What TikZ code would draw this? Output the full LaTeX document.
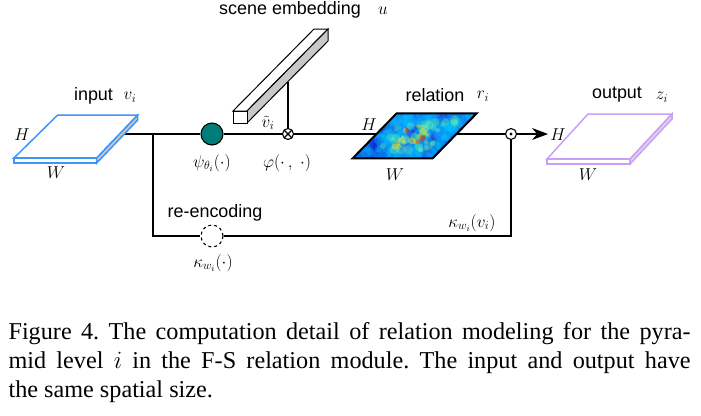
\documentclass[tikz,border=0pt]{standalone}
\usepackage{fontspec}
\setmainfont{Liberation Serif}
\setsansfont{Liberation Sans}
\usetikzlibrary{arrows.meta}
\definecolor{tealc}{RGB}{0,125,120}
\definecolor{inblue}{RGB}{60,150,250}
\definecolor{outviolet}{RGB}{200,160,250}
\definecolor{sidegray}{RGB}{200,200,200}
\definecolor{sideviolet}{RGB}{222,212,232}
\definecolor{jetblue}{RGB}{30,105,240}
\definecolor{jetdark}{RGB}{10,40,200}
\definecolor{jetcyan}{RGB}{0,200,255}
\definecolor{jetgreen}{RGB}{120,250,150}
\definecolor{jetyellow}{RGB}{250,230,20}
\definecolor{jetred}{RGB}{235,40,0}
\begin{document}
\begin{tikzpicture}[x=1bp,y=-1bp,line width=1.1bp,
  lbl/.style={font=\fontsize{18}{20}\selectfont\sffamily,inner sep=0pt},
  sym/.style={font=\fontsize{18.5}{20}\selectfont,inner sep=0pt},
  mulop/.style={circle,draw,fill=white,minimum size=11bp,inner sep=0pt,
    path picture={\draw (path picture bounding box.south west) -- (path picture bounding box.north east)
      (path picture bounding box.north west) -- (path picture bounding box.south east);}},
  dotop/.style={circle,draw,fill=white,minimum size=11bp,inner sep=0pt}]
\useasboundingbox (0,0) rectangle (701,415);

% connectors
\coordinate (inE) at (124,134);
\coordinate (split) at (153,134);
\coordinate (sw) at (153,236);
\coordinate (se) at (511,236);
\coordinate (barfoot) at (288,82);
\coordinate (outH) at (548,134);
\node[circle,draw,fill=tealc,minimum size=22bp,inner sep=0pt] (psi) at (212,134) {};
\node[mulop] (mul) at (288,134) {};
\node[dotop] (prod) at (511,134) {};
\fill (prod.center) circle (1.6);
\node[circle,draw,dashed,fill=white,minimum size=22bp,inner sep=0pt] (kap) at (212,236) {};
\draw (inE) -- (psi) -- (mul) -- (prod);
\draw (barfoot) -- (mul);
\draw (split) -- (sw) -- (kap) -- (se) -- (prod);
\draw[-{Stealth[length=16bp,width=12bp]}] (prod) -- (outH);

% input slab
\draw[inblue,line width=1.5bp,fill=white] (14,158) -- (96.7,158) -- (137.7,115) -- (57.7,115) -- cycle;
\draw[inblue,line width=1.5bp,fill=white] (14,158) rectangle (96.7,163);
\draw[inblue,line width=1.5bp,fill=sidegray] (96.7,158) -- (137.7,115) -- (137.7,120) -- (96.7,163) -- cycle;

% output slab
\draw[outviolet,line width=1.5bp,fill=white] (547,159) -- (630,159) -- (672,114) -- (588,114) -- cycle;
\draw[outviolet,line width=1.5bp,fill=white] (547,159) rectangle (630,164);
\draw[outviolet,line width=1.5bp,fill=sideviolet] (630,159) -- (672,114) -- (672,119) -- (630,164) -- cycle;

% scene embedding bar
\draw[line width=1bp,fill=white] (233,111) -- (247,111) -- (328,29) -- (314,29) -- cycle;
\draw[line width=1bp,fill=sidegray] (247,111) -- (247,123) -- (328,41) -- (328,29) -- cycle;
\draw[line width=1bp,fill=white] (233,111) rectangle (247,123);

% relation map
\begin{scope}
\clip (352.7,158.3) -- (432.7,158.3) -- (476.7,113.3) -- (396.7,113.3) -- cycle;
\fill[jetblue] (352.7,158.3) -- (432.7,158.3) -- (476.7,113.3) -- (396.7,113.3) -- cycle;
\pgfmathsetseed{17}
\foreach \k in {1,...,30}{
  \pgfmathsetmacro\s{rnd}\pgfmathsetmacro\t{rnd}\pgfmathsetmacro\r{4+5*rnd}
  \fill[jetdark,opacity=.3] ({352.7+80*\s+44*\t},{158.3-45*\t}) circle (\r);
}
\foreach \k in {1,...,140}{
  \pgfmathsetmacro\s{rnd}\pgfmathsetmacro\t{rnd}\pgfmathsetmacro\r{3+4*rnd}
  \fill[jetcyan,opacity=.25] ({352.7+80*\s+44*\t},{158.3-45*\t}) circle (\r);
}
\foreach \k in {1,...,40}{
  \pgfmathsetmacro\s{.15+.7*rnd}\pgfmathsetmacro\t{.15+.7*rnd}\pgfmathsetmacro\r{2+3*rnd}
  \fill[jetgreen,opacity=.3] ({352.7+80*\s+44*\t},{158.3-45*\t}) circle (\r);
}
\foreach \k in {1,...,14}{
  \pgfmathsetmacro\s{.3+.4*rnd}\pgfmathsetmacro\t{.25+.5*rnd}\pgfmathsetmacro\r{1.5+2.5*rnd}
  \fill[jetyellow,opacity=.45] ({352.7+80*\s+44*\t},{158.3-45*\t}) circle (\r);
}
\fill[jetred,opacity=.6] (407,130) circle (2);
\fill[jetred,opacity=.6] (423,138) circle (3);
\fill[jetred,opacity=.45] (418,142) circle (2.5);
\end{scope}
\draw[line width=2bp] (352.7,158.3) -- (432.7,158.3) -- (476.7,113.3) -- (396.7,113.3) -- cycle;

% labels
\node[lbl] (sceneLbl) at (290,10) {scene embedding};
\node[sym] (uLbl) at (383,11) {$u$};
\node[lbl] (inLbl) at (93.5,96) {input};
\node[sym] (viLbl) at (130,97) {$v_i$};
\node[sym] (inH) at (22,135) {$H$};
\node[sym] (inW) at (56,173) {$W$};
\node[sym] (vtLbl) at (268,123) {$\tilde{v}_i$};
\node[sym] (psiLbl) at (212,163) {$\psi_{\theta_i}(\cdot)$};
\node[sym] (phiLbl) at (287,163) {$\varphi(\cdot\,,\;\cdot)$};
\node[lbl] (relLbl) at (435,95) {relation};
\node[sym] (riLbl) at (483,96) {$r_i$};
\node[sym] (relH) at (369,125) {$H$};
\node[sym] (relW) at (395,175) {$W$};
\node[lbl] (outLbl) at (617,95) {output};
\node[sym] (ziLbl) at (662,97) {$z_i$};
\node[sym] (outHl) at (558,135) {$H$};
\node[sym] (outW) at (588,175) {$W$};
\node[lbl] (reLbl) at (215,213) {re-encoding};
\node[sym] (kapLbl) at (213,263) {$\kappa_{w_i}(\cdot)$};
\node[sym] (kapvLbl) at (472,223) {$\kappa_{w_i}(v_i)$};

% caption
\node[anchor=north west,inner sep=0pt,text width=682bp,align=justify,
  font=\fontsize{24.3}{29}\selectfont] (cap) at (8,322)
  {\frenchspacing\hyphenpenalty=10000 Figure 4. The computation detail of relation modeling for the pyra-\linebreak
  mid level $i$ in the F-S relation module.  The input and output have\linebreak
  the same spatial size.};
\end{tikzpicture}
\end{document}
